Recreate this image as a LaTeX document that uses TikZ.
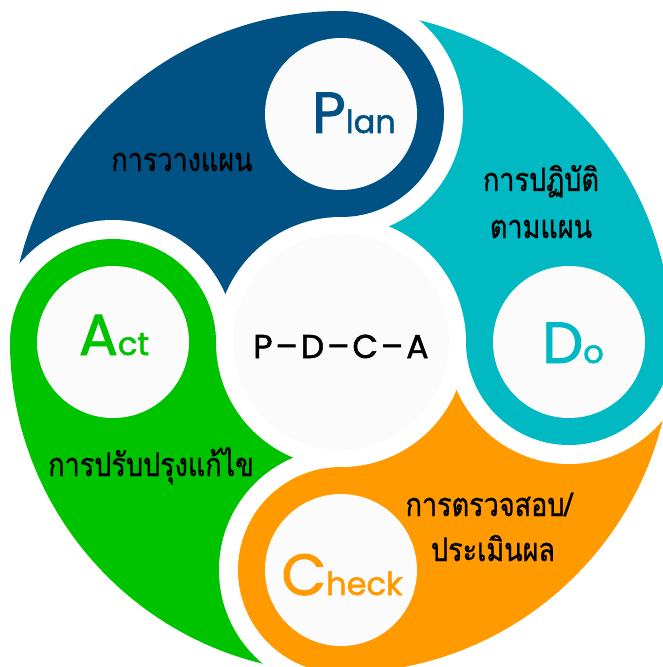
\documentclass[tikz,border=0pt]{standalone}
\usepackage{fontspec}
\setmainfont[FakeBold=1.6]{Poppins}
\newfontfamily\thaifont[Script=Thai,FakeBold=1]{Loma}
\definecolor{planblue}{RGB}{0,82,132}
\definecolor{docyan}{RGB}{0,185,195}
\definecolor{checkorange}{RGB}{255,155,0}
\definecolor{actgreen}{RGB}{0,195,0}
\definecolor{disc}{RGB}{251,251,251}
\newcommand{\steplabel}[2]{{\fontsize{58}{58}\selectfont #1}{\fontsize{32}{32}\selectfont #2}}
\newcommand{\thaitext}[1]{\scalebox{1}[1.2]{\thaifont\fontsize{27}{27}\selectfont #1}}
\begin{document}
\begin{tikzpicture}[x=1pt,y=1pt]
\useasboundingbox (-341,-325) rectangle (322,342);
\fill[planblue] (0,0) -- (90:331) arc (90:180:331) -- cycle;
\fill[actgreen] (0,0) -- (180:331) arc (180:270:331) -- cycle;
\fill[checkorange] (0,0) -- (270:331) arc (270:360:331) -- cycle;
\fill[docyan] (0,0) -- (0:331) arc (0:90:331) -- cycle;
\begin{scope}
\clip (0,0) -- (0:400) arc (0:90:400) -- cycle;
\fill[white] (90:228) circle (122);
\end{scope}
\begin{scope}
\clip (0,0) -- (90:400) arc (90:180:400) -- cycle;
\fill[white] (180:228) circle (122);
\end{scope}
\begin{scope}
\clip (0,0) -- (180:400) arc (180:270:400) -- cycle;
\fill[white] (270:228) circle (122);
\end{scope}
\begin{scope}
\clip (0,0) -- (270:400) arc (270:360:400) -- cycle;
\fill[white] (0:228) circle (122);
\end{scope}
\fill[white] (0,0) circle (125);
\fill[planblue] (90:228) circle (103);
\fill[actgreen] (180:228) circle (103);
\fill[checkorange] (270:228) circle (103);
\fill[docyan] (0:228) circle (103);
\fill[disc] (90:228) circle (76);
\fill[disc] (180:228) circle (76);
\fill[disc] (270:228) circle (76);
\fill[disc] (0:228) circle (76);
\fill[disc] (0,0) circle (108);
\node[anchor=base,text=planblue,inner sep=0] (plan) at (13,209) {\steplabel{P}{lan}};
\node[anchor=base,text=docyan,inner sep=0] (do) at (232,-21) {\steplabel{D}{o}};
\node[anchor=base,text=checkorange,inner sep=0] (check) at (1,-253) {\steplabel{C}{heck}};
\node[anchor=base,text=actgreen,inner sep=0] (act) at (-227,-13) {\steplabel{A}{ct}};
\node[anchor=base,inner sep=0,font=\fontsize{33}{33}\selectfont] (pdca) at (0,-16) {P\kern3pt--\kern3pt D\kern3pt--\kern3pt C\kern3pt--\kern3pt A};
\node[anchor=base,inner sep=0] (tplan) at (-159,171) {\thaitext{การวางแผน}};
\node[anchor=base,inner sep=0] (tdoa) at (200,151) {\thaitext{การปฏิบัติ}};
\node[anchor=base,inner sep=0] (tdob) at (200,104) {\thaitext{ตามแผน}};
\node[anchor=base,inner sep=0] (tchecka) at (148,-174) {\thaitext{การตรวจสอบ/}};
\node[anchor=base,inner sep=0] (tcheckb) at (152,-219) {\thaitext{ประเมินผล}};
\node[anchor=base,inner sep=0] (tact) at (-190,-134) {\thaitext{การปรับปรุงแก้ไข}};
\end{tikzpicture}
\end{document}
